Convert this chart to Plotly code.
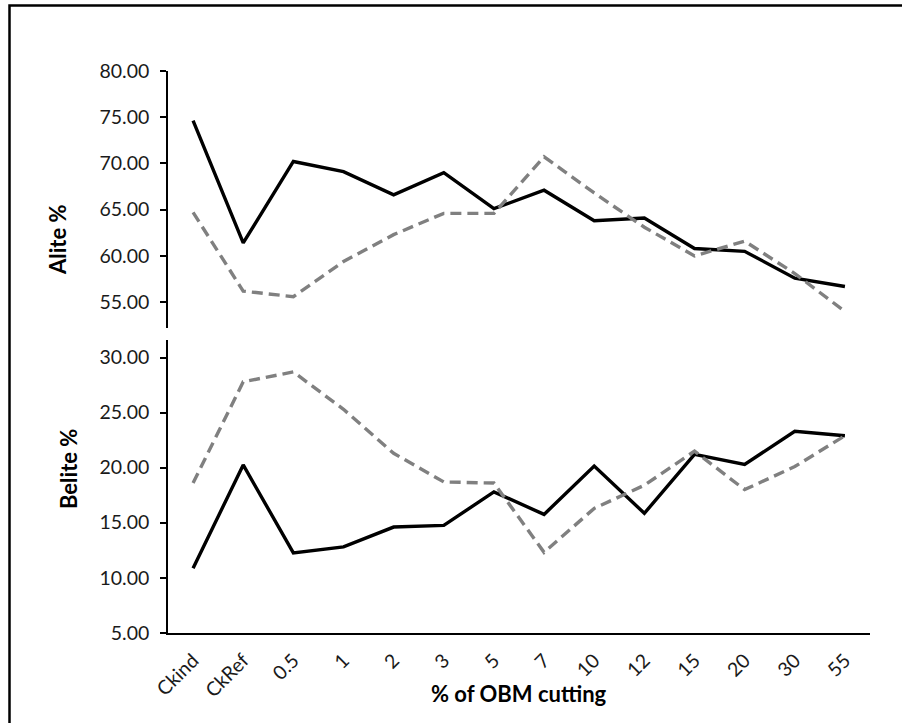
import plotly.graph_objects as go
from plotly.subplots import make_subplots

categories = ["Ckind", "CkRef", "0.5", "1", "2", "3", "5", "7", "10", "12", "15", "20", "30", "55"]

alite_solid = [74.6, 61.4, 70.2, 69.1, 66.6, 69.0, 65.1, 67.1, 63.8, 64.1, 60.8, 60.5, 57.6, 56.7]
alite_dashed = [64.7, 56.2, 55.6, 59.4, 62.3, 64.6, 64.6, 70.7, 66.8, 63.1, 60.0, 61.6, 58.1, 54.0]

belite_solid = [10.85, 20.25, 12.25, 12.8, 14.6, 14.75, 17.8, 15.75, 20.15, 15.85, 21.2, 20.3, 23.3, 22.9]
belite_dashed = [18.6, 27.8, 28.7, 25.3, 21.3, 18.7, 18.6, 12.3, 16.3, 18.4, 21.5, 18.0, 20.1, 22.9]

alite_ticks = [55, 60, 65, 70, 75, 80]
belite_ticks = [5, 10, 15, 20, 25, 30]

W, H = 902, 723
ML, MR, MT, MB = 168, 32, 60, 90
PH = H - MT - MB
PW = W - ML - MR


def fy(px):
    return 1 - (px - MT) / PH


def fx(px):
    return (px - ML) / PW


FONT = "Lato, Carlito, Calibri, sans-serif"

fig = make_subplots(rows=2, cols=1, shared_xaxes=False, vertical_spacing=0.02)

solid = dict(color="black", width=3.4)
dashed = dict(color="#808080", width=3.4, dash="11px,6px")

fig.add_trace(go.Scatter(x=categories, y=alite_solid, mode="lines", line=solid, showlegend=False), row=1, col=1)
fig.add_trace(go.Scatter(x=categories, y=alite_dashed, mode="lines", line=dashed, showlegend=False), row=1, col=1)
fig.add_trace(go.Scatter(x=categories, y=belite_solid, mode="lines", line=solid, showlegend=False), row=2, col=1)
fig.add_trace(go.Scatter(x=categories, y=belite_dashed, mode="lines", line=dashed, showlegend=False), row=2, col=1)

tick_font = dict(family=FONT, size=19.5, color="#1a1a1a")
title_font = dict(family=FONT, size=22, color="black")

yaxis_common = dict(
    showgrid=False, zeroline=False, showline=True, linecolor="black", linewidth=1.5,
    ticks="outside", ticklen=6, tickwidth=1.5, tickcolor="black",
    tickformat=".2f", tickfont=tick_font, ticklabelstandoff=7, automargin=False,
)

fig.update_layout(
    width=W, height=H,
    margin=dict(l=ML, r=MR, t=MT, b=MB, autoexpand=False),
    paper_bgcolor="white", plot_bgcolor="white",
    font=dict(family=FONT, color="black"),
    xaxis=dict(type="category", domain=[0, 1], showline=False, showticklabels=False,
               showgrid=False, zeroline=False, ticks="", range=[-0.5, 13.5], anchor="y",
               automargin=False),
    xaxis2=dict(type="category", domain=[0, 1], showline=True, linecolor="black", linewidth=1.5,
                showgrid=False, zeroline=False, ticks="", range=[-0.5, 13.5],
                tickangle=-45, tickfont=tick_font, ticklabelstandoff=7, anchor="y2",
                automargin=False),
    yaxis=dict(domain=[fy(328), fy(70.7)], range=[52.22, 80], tickvals=alite_ticks, **yaxis_common),
    yaxis2=dict(domain=[fy(632.7), fy(340)], range=[5, 31.6], tickvals=belite_ticks, **yaxis_common),
    shapes=[
        dict(type="rect", xref="paper", yref="paper",
             x0=fx(9.5), x1=fx(910), y0=fy(740), y1=fy(5.5),
             line=dict(color="black", width=2.5), fillcolor="rgba(0,0,0,0)", layer="below"),
    ],
    annotations=[
        dict(text="<b>Alite %</b>", xref="paper", yref="paper", x=fx(57), y=fy(240),
             showarrow=False, textangle=-90, xanchor="center", yanchor="middle",
             font=title_font),
        dict(text="<b>Belite %</b>", xref="paper", yref="paper", x=fx(68), y=fy(469),
             showarrow=False, textangle=-90, xanchor="center", yanchor="middle",
             font=title_font),
        dict(text="<b>% of OBM cutting</b>", xref="paper", yref="paper", x=0.5, y=fy(693),
             showarrow=False, xanchor="center", yanchor="middle",
             font=title_font),
    ],
)

fig.write_html("out.html")
